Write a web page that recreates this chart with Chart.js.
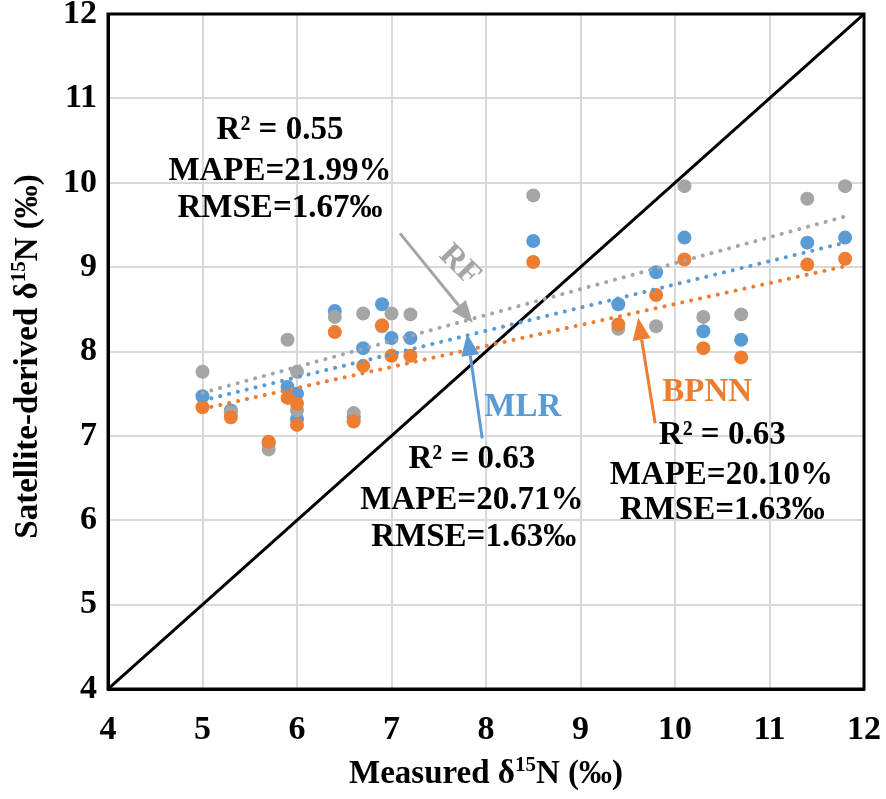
<!DOCTYPE html>
<html>
<head>
<meta charset="utf-8">
<script src="https://cdn.jsdelivr.net/npm/chart.js@4.4.1/dist/chart.umd.min.js"></script>
<style>
  html, body { margin: 0; padding: 0; background: #fff; }
</style>
</head>
<body>
<canvas id="chart" width="886" height="799"></canvas>
<script>
// Measured d15N for each sample (x)
const measured = [5, 5.3, 5.7, 5.9, 6, 6, 6.4, 6.6, 6.7, 6.9, 7.0, 7.2, 8.5, 9.4, 9.8, 10.1, 10.3, 10.7, 11.4, 11.8];
// Satellite-derived values per model
const rfValues   = [7.76, 7.28, 6.84, 8.14, 7.76, 7.30, 8.41, 7.27, 8.45, 8.30, 8.45, 8.44, 9.85, 8.27, 8.30, 9.96, 8.41, 8.44, 9.81, 9.96];
const mlrValues  = [7.47, 7.30, 6.91, 7.58, 7.50, 7.20, 8.48, 7.22, 8.04, 8.56, 8.16, 8.16, 9.31, 8.56, 8.94, 9.35, 8.24, 8.14, 9.29, 9.35];
const bpnnValues = [7.34, 7.22, 6.93, 7.45, 7.38, 7.13, 8.23, 7.17, 7.83, 8.31, 7.95, 7.95, 9.06, 8.32, 8.67, 9.09, 8.04, 7.93, 9.03, 9.10];

// Trendline end points
const trendX    = [5, 11.8];
const rfTrend   = [7.51, 9.60];
const mlrTrend  = [7.42, 9.29];
const bpnnTrend = [7.32, 9.01];

// 1:1 line and axis range
const oneToOne = [4, 12];
const axisMin = 4, axisMax = 12;

const GRAY = '#a5a5a5';
const BLUE = '#5b9bd5';
const ORANGE = '#ed7d31';
const SERIF = '"Liberation Serif", "Times New Roman", serif';

const toPoints = (xs, ys) => xs.map((x, i) => ({ x: x, y: ys[i] }));

// Text blocks, labels and arrows (in data units)
const notes = [
  { text: 'R\u00b2 = 0.55', x: 5.82, y: 10.62, color: '#000' },
  { text: 'MAPE=21.99%', x: 5.82, y: 10.13, color: '#000' },
  { text: 'RMSE=1.67\u2030', x: 5.82, y: 9.70, color: '#000' },
  { text: 'R\u00b2 = 0.63', x: 7.85, y: 6.72, color: '#000' },
  { text: 'MAPE=20.71%', x: 7.85, y: 6.24, color: '#000' },
  { text: 'RMSE=1.63\u2030', x: 7.87, y: 5.80, color: '#000' },
  { text: 'R\u00b2 = 0.63', x: 10.50, y: 7.01, color: '#000' },
  { text: 'MAPE=20.10%', x: 10.49, y: 6.53, color: '#000' },
  { text: 'RMSE=1.63\u2030', x: 10.50, y: 6.12, color: '#000' },
  { text: 'RF', x: 7.72, y: 9.02, color: GRAY, rot: 45 },
  { text: 'MLR', x: 8.39, y: 7.34, color: BLUE },
  { text: 'BPNN', x: 10.34, y: 7.52, color: ORANGE },
];
const arrows = [
  { from: [7.09, 9.40], to: [7.86, 8.34], color: GRAY },
  { from: [7.96, 6.97], to: [7.80, 8.21], color: BLUE },
  { from: [9.79, 7.15], to: [9.61, 8.40], color: ORANGE },
];

const annotationPlugin = {
  id: 'notes',
  afterDatasetsDraw(chart) {
    const { ctx, scales: { x, y } } = chart;
    ctx.save();
    // arrows
    arrows.forEach((a) => {
      const x1 = x.getPixelForValue(a.from[0]), y1 = y.getPixelForValue(a.from[1]);
      const x2 = x.getPixelForValue(a.to[0]), y2 = y.getPixelForValue(a.to[1]);
      const ang = Math.atan2(y2 - y1, x2 - x1);
      const head = 22, half = 9;
      const bx = x2 - head * Math.cos(ang), by = y2 - head * Math.sin(ang);
      ctx.strokeStyle = a.color;
      ctx.fillStyle = a.color;
      ctx.lineWidth = 3;
      ctx.beginPath();
      ctx.moveTo(x1, y1);
      ctx.lineTo(bx, by);
      ctx.stroke();
      ctx.beginPath();
      ctx.moveTo(x2, y2);
      ctx.lineTo(bx + half * Math.sin(ang), by - half * Math.cos(ang));
      ctx.lineTo(bx - half * Math.sin(ang), by + half * Math.cos(ang));
      ctx.closePath();
      ctx.fill();
    });
    // text
    ctx.font = 'bold 33px ' + SERIF;
    ctx.textAlign = 'center';
    ctx.textBaseline = 'middle';
    notes.forEach((n) => {
      ctx.save();
      ctx.translate(x.getPixelForValue(n.x), y.getPixelForValue(n.y));
      if (n.rot) ctx.rotate(n.rot * Math.PI / 180);
      ctx.fillStyle = n.color;
      ctx.fillText(n.text, 0, 0);
      ctx.restore();
    });
    ctx.restore();
  },
  afterDraw(chart) {
    const { ctx, chartArea: a } = chart;
    ctx.save();
    // frame round the plot
    ctx.strokeStyle = '#000';
    ctx.lineWidth = 3;
    ctx.strokeRect(a.left, a.top, a.right - a.left, a.bottom - a.top);

    // axis titles with superscript 15
    const drawTitle = (parts, cx, cy, rot) => {
      ctx.save();
      ctx.translate(cx, cy);
      if (rot) ctx.rotate(rot);
      const big = 'bold 33px ' + SERIF, small = 'bold 21px ' + SERIF;
      let total = 0;
      parts.forEach((p) => { ctx.font = p.sup ? small : big; total += ctx.measureText(p.t).width; });
      let px = -total / 2;
      ctx.fillStyle = '#000';
      ctx.textAlign = 'left';
      ctx.textBaseline = 'alphabetic';
      parts.forEach((p) => {
        ctx.font = p.sup ? small : big;
        ctx.fillText(p.t, px, p.sup ? -1 : 11);
        px += ctx.measureText(p.t).width;
      });
      ctx.restore();
    };
    drawTitle([{ t: 'Measured \u03b4' }, { t: '15', sup: true }, { t: 'N (\u2030)' }], (a.left + a.right) / 2, 772, 0);
    drawTitle([{ t: 'Satellite-derived \u03b4' }, { t: '15', sup: true }, { t: 'N (\u2030)' }], 26, (a.top + a.bottom) / 2 + 5, -Math.PI / 2);
    ctx.restore();
  },
};

const tickFont = { family: SERIF, size: 34, weight: 'bold' };
// keep the plot box fixed, labels may overhang
const noOverhang = (s) => {
  s.paddingTop = 0; s.paddingBottom = 0; s.paddingLeft = 0; s.paddingRight = 0;
};

const ctx = document.getElementById('chart').getContext('2d');
const chart = new Chart(ctx, {
  type: 'scatter',
  data: {
    datasets: [
      {
        label: 'RF trend',
        data: toPoints(trendX, rfTrend),
        showLine: true,
        borderColor: GRAY,
        borderWidth: 4,
        borderDash: [0.1, 9],
        borderCapStyle: 'round',
        pointRadius: 0,
        order: 0,
      },
      {
        label: 'MLR trend',
        data: toPoints(trendX, mlrTrend),
        showLine: true,
        borderColor: BLUE,
        borderWidth: 4,
        borderDash: [0.1, 9],
        borderCapStyle: 'round',
        pointRadius: 0,
        order: 0,
      },
      {
        label: 'BPNN trend',
        data: toPoints(trendX, bpnnTrend),
        showLine: true,
        borderColor: ORANGE,
        borderWidth: 4,
        borderDash: [0.1, 9],
        borderCapStyle: 'round',
        pointRadius: 0,
        order: 0,
      },
      {
        label: 'BPNN',
        data: toPoints(measured, bpnnValues),
        backgroundColor: ORANGE,
        borderWidth: 0,
        pointRadius: 7,
        order: 1,
      },
      {
        label: 'RF',
        data: toPoints(measured, rfValues),
        backgroundColor: GRAY,
        borderWidth: 0,
        pointRadius: 7,
        order: 2,
      },
      {
        label: 'MLR',
        data: toPoints(measured, mlrValues),
        backgroundColor: BLUE,
        borderWidth: 0,
        pointRadius: 7,
        order: 3,
      },
      {
        label: '1:1',
        data: toPoints(oneToOne, oneToOne),
        showLine: true,
        borderColor: '#000',
        borderWidth: 3,
        pointRadius: 0,
        order: 4,
      },
    ],
  },
  options: {
    responsive: false,
    animation: false,
    layout: { padding: { top: 14, right: 22, left: 0, bottom: 0 } },
    plugins: {
      legend: { display: false },
      tooltip: { enabled: false },
    },
    scales: {
      x: {
        type: 'linear',
        min: axisMin,
        max: axisMax,
        ticks: { stepSize: 1, font: tickFont, color: '#000', padding: 21 },
        grid: { color: '#d9d9d9', lineWidth: 2, drawTicks: false },
        border: { color: '#000', width: 3 },
        afterFit: (s) => { s.height = 110; noOverhang(s); },
      },
      y: {
        type: 'linear',
        min: axisMin,
        max: axisMax,
        ticks: { stepSize: 1, font: tickFont, color: '#000', padding: 11 },
        grid: { color: '#d9d9d9', lineWidth: 2, drawTicks: false },
        border: { color: '#000', width: 3 },
        afterFit: (s) => { s.width = 108; noOverhang(s); },
      },
    },
  },
  plugins: [annotationPlugin],
});
</script>
</body>
</html>
